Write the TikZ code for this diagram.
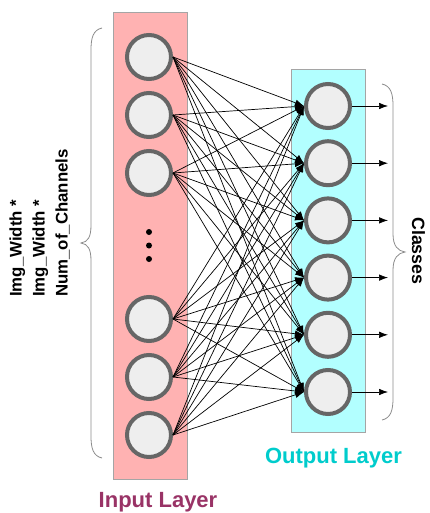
\documentclass[tikz,border=0pt]{standalone}
\usepackage{fontspec}
\setmainfont{Liberation Sans}
\usetikzlibrary{arrows.meta}
\definecolor{pinkfill}{RGB}{255,178,178}
\definecolor{cyanfill}{RGB}{178,255,255}
\definecolor{boxgray}{RGB}{165,165,165}
\definecolor{ringgray}{RGB}{102,102,102}
\definecolor{neurfill}{RGB}{238,238,238}
\definecolor{bracegray}{RGB}{140,140,140}
\definecolor{inlabel}{RGB}{153,51,102}
\definecolor{outlabel}{RGB}{0,204,204}
\begin{document}
\begin{tikzpicture}[x=1pt,y=-1pt,
  neuron/.style={circle,draw=ringgray,fill=neurfill,line width=4pt,minimum size=44pt,inner sep=0pt},
  conn/.style={line width=0.7pt,-{Latex[length=9pt,width=6.5pt]}},
  bracestyle/.style={draw=bracegray,line width=0.8pt},
  layerbox/.style={draw=boxgray,line width=1pt},
  dotnode/.style={circle,fill=black,minimum size=6pt,inner sep=0pt},
  sidetext/.style={font=\bfseries\fontsize{16.8}{20}\selectfont,inner sep=0pt},
  layerlabel/.style={font=\bfseries\fontsize{22}{26}\selectfont,inner sep=0pt,anchor=base}]
\useasboundingbox (0,0) rectangle (429,513);
% layer boxes
\draw[layerbox,fill=pinkfill] (113,13) rectangle (187,479);
\draw[layerbox,fill=cyanfill] (291,70) rectangle (365,432);
% input neurons
\node[neuron] (i1) at (149,57) {};
\node[neuron] (i2) at (149,115) {};
\node[neuron] (i3) at (149,173) {};
\node[neuron] (i4) at (149,319) {};
\node[neuron] (i5) at (149,377) {};
\node[neuron] (i6) at (149,435) {};
\node[dotnode] (d1) at (149,232) {};
\node[dotnode] (d2) at (149,245.5) {};
\node[dotnode] (d3) at (149,259) {};
% output neurons
\foreach \j in {1,...,6}{
  \node[neuron] (o\j) at (328,{106+57.2*(\j-1)}) {};
  \coordinate (c\j) at (388,{106+57.2*(\j-1)});
}
% connections
\foreach \i in {1,...,6}{
  \foreach \j in {1,...,6}{
    \draw[conn] (i\i.east) -- (o\j.west);
  }
}
\foreach \j in {1,...,6}{
  \draw[conn] (o\j.east) -- (c\j);
}
% braces
\draw[bracestyle] (102,28) .. controls (93,30) and (91,38) .. (91,50) -- (91,225)
  .. controls (91,237) and (88,242) .. (81,243)
  .. controls (88,244) and (91,249) .. (91,261) -- (91,436)
  .. controls (91,448) and (93,456) .. (102,458);
\draw[bracestyle] (382,84) .. controls (391,86) and (393,94) .. (393,106) -- (393,234)
  .. controls (393,246) and (398,251) .. (405,252)
  .. controls (398,253) and (393,258) .. (393,270) -- (393,398)
  .. controls (393,410) and (391,418) .. (382,420);
% side texts
\node[sidetext,rotate=90,anchor=base west] (t1) at (21.5,297) {Img\_Width *};
\node[sidetext,rotate=90,anchor=base west] (t2) at (44.5,297) {Img\_Width *};
\node[sidetext,rotate=90,anchor=base west] (t3) at (67.5,297) {Num\_of\_Channels};
\node[font=\bfseries\fontsize{17.8}{20}\selectfont,inner sep=0pt,rotate=-90,anchor=base west] (cls) at (412,217) {Classes};
% layer labels
\node[layerlabel,text=inlabel] (inl) at (158,507) {Input Layer};
\node[layerlabel,text=outlabel] (outl) at (333.5,463) {Output Layer};
\end{tikzpicture}
\end{document}
